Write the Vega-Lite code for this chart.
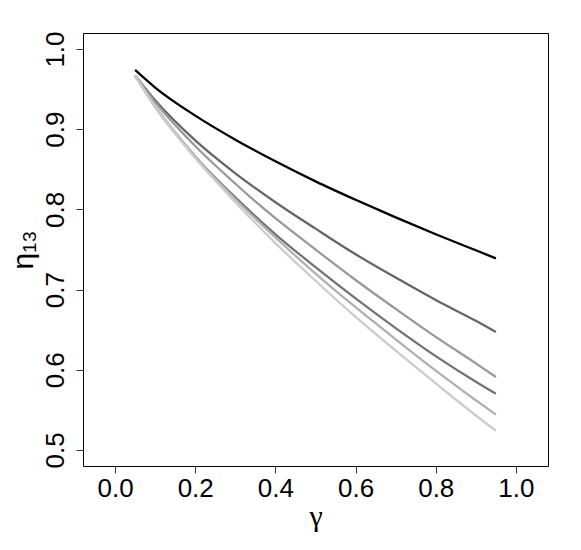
{
  "$schema": "https://vega.github.io/schema/vega-lite/v6.json",
  "width": 465,
  "height": 433,
  "autosize": {"type": "none"},
  "padding": {"left": 83, "top": 33, "right": 33, "bottom": 84},
  "config": {
    "view": {"stroke": "#000", "strokeWidth": 1},
    "font": "Liberation Sans"
  },
  "data": {
    "values": [
      {"g": 0.05, "s": "a", "eta": 0.974}, {"g": 0.1, "s": "a", "eta": 0.952}, {"g": 0.2, "s": "a", "eta": 0.917}, {"g": 0.3, "s": "a", "eta": 0.887}, {"g": 0.4, "s": "a", "eta": 0.860}, {"g": 0.5, "s": "a", "eta": 0.835}, {"g": 0.6, "s": "a", "eta": 0.812}, {"g": 0.7, "s": "a", "eta": 0.790}, {"g": 0.8, "s": "a", "eta": 0.769}, {"g": 0.9, "s": "a", "eta": 0.749}, {"g": 0.95, "s": "a", "eta": 0.739},
      {"g": 0.05, "s": "b", "eta": 0.967}, {"g": 0.1, "s": "b", "eta": 0.936}, {"g": 0.2, "s": "b", "eta": 0.886}, {"g": 0.3, "s": "b", "eta": 0.845}, {"g": 0.4, "s": "b", "eta": 0.809}, {"g": 0.5, "s": "b", "eta": 0.776}, {"g": 0.6, "s": "b", "eta": 0.744}, {"g": 0.7, "s": "b", "eta": 0.715}, {"g": 0.8, "s": "b", "eta": 0.687}, {"g": 0.9, "s": "b", "eta": 0.661}, {"g": 0.95, "s": "b", "eta": 0.647},
      {"g": 0.05, "s": "c", "eta": 0.967}, {"g": 0.1, "s": "c", "eta": 0.934}, {"g": 0.2, "s": "c", "eta": 0.879}, {"g": 0.3, "s": "c", "eta": 0.832}, {"g": 0.4, "s": "c", "eta": 0.789}, {"g": 0.5, "s": "c", "eta": 0.750}, {"g": 0.6, "s": "c", "eta": 0.712}, {"g": 0.7, "s": "c", "eta": 0.676}, {"g": 0.8, "s": "c", "eta": 0.641}, {"g": 0.9, "s": "c", "eta": 0.608}, {"g": 0.95, "s": "c", "eta": 0.591},
      {"g": 0.05, "s": "d", "eta": 0.967}, {"g": 0.1, "s": "d", "eta": 0.928}, {"g": 0.2, "s": "d", "eta": 0.866}, {"g": 0.3, "s": "d", "eta": 0.815}, {"g": 0.4, "s": "d", "eta": 0.769}, {"g": 0.5, "s": "d", "eta": 0.728}, {"g": 0.6, "s": "d", "eta": 0.689}, {"g": 0.7, "s": "d", "eta": 0.652}, {"g": 0.8, "s": "d", "eta": 0.617}, {"g": 0.9, "s": "d", "eta": 0.585}, {"g": 0.95, "s": "d", "eta": 0.570},
      {"g": 0.05, "s": "e", "eta": 0.967}, {"g": 0.1, "s": "e", "eta": 0.929}, {"g": 0.2, "s": "e", "eta": 0.866}, {"g": 0.3, "s": "e", "eta": 0.813}, {"g": 0.4, "s": "e", "eta": 0.765}, {"g": 0.5, "s": "e", "eta": 0.720}, {"g": 0.6, "s": "e", "eta": 0.678}, {"g": 0.7, "s": "e", "eta": 0.638}, {"g": 0.8, "s": "e", "eta": 0.599}, {"g": 0.9, "s": "e", "eta": 0.562}, {"g": 0.95, "s": "e", "eta": 0.544},
      {"g": 0.05, "s": "f", "eta": 0.967}, {"g": 0.1, "s": "f", "eta": 0.928}, {"g": 0.2, "s": "f", "eta": 0.864}, {"g": 0.3, "s": "f", "eta": 0.809}, {"g": 0.4, "s": "f", "eta": 0.758}, {"g": 0.5, "s": "f", "eta": 0.711}, {"g": 0.6, "s": "f", "eta": 0.666}, {"g": 0.7, "s": "f", "eta": 0.624}, {"g": 0.8, "s": "f", "eta": 0.583}, {"g": 0.9, "s": "f", "eta": 0.543}, {"g": 0.95, "s": "f", "eta": 0.524}
    ]
  },
  "mark": {"type": "line", "strokeWidth": 2.3, "interpolate": "monotone"},
  "encoding": {
    "x": {
      "field": "g", "type": "quantitative",
      "scale": {"domain": [-0.08, 1.08], "nice": false, "zero": false},
      "axis": {
        "values": [0, 0.2, 0.4, 0.6, 0.8, 1], "format": ".1f", "title": "γ",
        "grid": false, "domain": false, "tickSize": 7, "tickColor": "#333",
        "labelFontSize": 26, "labelPadding": 2, "labelColor": "#000", "labelFlush": false,
        "titleFont": "Liberation Serif", "titleFontSize": 30, "titleFontWeight": "normal", "titleColor": "#000", "titlePadding": 0
      }
    },
    "y": {
      "field": "eta", "type": "quantitative",
      "scale": {"domain": [0.48, 1.02], "nice": false, "zero": false},
      "axis": {
        "values": [0.5, 0.6, 0.7, 0.8, 0.9, 1.0], "format": ".1f", "title": "η₁₃",
        "grid": false, "domain": false, "tickSize": 7, "tickColor": "#333",
        "labelFontSize": 26, "labelPadding": 13, "labelColor": "#000", "labelFlush": false,
        "labelAngle": -90, "labelAlign": "center", "labelBaseline": "alphabetic",
        "titleFontSize": 30, "titleFontWeight": "normal", "titleColor": "#000", "titlePadding": 4
      }
    },
    "color": {
      "field": "s", "type": "nominal",
      "scale": {"domain": ["a", "b", "c", "d", "e", "f"], "range": ["#000000", "#666666", "#999999", "#737373", "#b0b0b0", "#cccccc"]},
      "legend": null
    }
  }
}
